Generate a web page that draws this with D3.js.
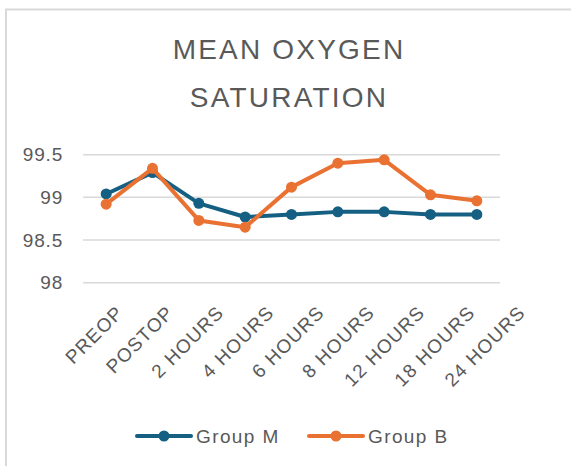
<!DOCTYPE html>
<html>
<head>
<meta charset="utf-8">
<script src="https://cdn.jsdelivr.net/npm/d3@7"></script>
<style>
  body { margin:0; background:#fff; }
  text { font-family: "Liberation Sans", Arial, sans-serif; fill:#595959; }
</style>
</head>
<body>
<div id="chart"></div>
<script>
// data
var categories = ['PREOP','POSTOP','2 HOURS','4 HOURS','6 HOURS','8 HOURS','12 HOURS','18 HOURS','24 HOURS'];
var groupM = [99.04, 99.29, 98.93, 98.77, 98.80, 98.83, 98.83, 98.80, 98.80];
var groupB = [98.92, 99.34, 98.73, 98.65, 99.12, 99.40, 99.44, 99.03, 98.96];
var yTicks = [98, 98.5, 99, 99.5];
var seriesNames = ['Group M','Group B'];
var colors = ['#156082','#E97132'];

var W = 571, H = 466;
var margin = {t:154.7, r:71, b:183.3, l:83};
var width = W - margin.l - margin.r,
    height = H - margin.t - margin.b;

var svg = d3.select('#chart').append('svg')
  .attr('width', W).attr('height', H);

// chart frame
svg.append('rect')
  .attr('x', 6).attr('y', 9.5)
  .attr('width', 600).attr('height', 500)
  .attr('fill', 'none').attr('stroke', '#d9d9d9').attr('stroke-width', 2);

// title
var titleLines = ['MEAN OXYGEN', 'SATURATION'];
titleLines.forEach(function(t, i) {
  svg.append('text').attr('x', 289).attr('y', 59 + i * 48)
    .attr('text-anchor', 'middle').style('font-size', '28px').style('letter-spacing', '2.2px')
    .text(t);
});

var plot = svg.append('g')
  .attr('transform', 'translate(' + margin.l + ',' + margin.t + ')');

var x = d3.scalePoint().domain(categories).range([0, width]).padding(0.5);
var y = d3.scaleLinear().domain([98, 99.5]).range([height, 0]);
// the category labels sit on a slightly wider step than the points
var xLabel = d3.scalePoint().domain(categories).range([41, 443]);

// gridlines
plot.append('g').selectAll('line').data(yTicks).enter().append('line')
  .attr('x1', 0).attr('x2', width)
  .attr('y1', function(d){ return y(d); }).attr('y2', function(d){ return y(d); })
  .attr('stroke', '#d9d9d9').attr('stroke-width', 1.5);

// y axis
var yAxis = plot.append('g')
  .call(d3.axisLeft(y).tickValues(yTicks).tickSize(0).tickPadding(20).tickFormat(d3.format('')));
yAxis.select('.domain').remove();
yAxis.selectAll('text').style('font-size', '19px').style('fill', '#595959')
  .style('letter-spacing', '0.8px').attr('font-family', null);

// x axis labels
var xAxis = plot.append('g')
  .attr('transform', 'translate(0,' + height + ')')
  .call(d3.axisBottom(xLabel).tickSize(0));
xAxis.select('.domain').remove();
xAxis.selectAll('text')
  .style('font-size', '19px').style('fill', '#595959').style('letter-spacing', '1.2px')
  .attr('text-anchor', 'end')
  .attr('dy', null).attr('y', 0)
  .attr('transform', 'translate(0,31) rotate(-45)');

// lines and markers
var line = d3.line()
  .x(function(d, i){ return x(categories[i]); })
  .y(function(d){ return y(d); });

[groupM, groupB].forEach(function(s, k) {
  plot.append('path').datum(s)
    .attr('d', line)
    .attr('fill', 'none').attr('stroke', colors[k]).attr('stroke-width', 4)
    .attr('stroke-linejoin', 'round');
  plot.append('g').selectAll('circle').data(s).enter().append('circle')
    .attr('cx', function(d, i){ return x(categories[i]); })
    .attr('cy', function(d){ return y(d); })
    .attr('r', 5.5)
    .attr('fill', colors[k]);
});

// legend
var legendX = [137, 309];
seriesNames.forEach(function(name, k) {
  var g = svg.append('g').attr('transform', 'translate(' + legendX[k] + ',436)');
  g.append('line').attr('x1', 0).attr('x2', 54).attr('y1', 0).attr('y2', 0)
    .attr('stroke', colors[k]).attr('stroke-width', 4).attr('stroke-linecap', 'round');
  g.append('circle').attr('cx', 27).attr('cy', 0).attr('r', 5.5).attr('fill', colors[k]);
  g.append('text').attr('x', 59).attr('y', 7)
    .style('font-size', '19px').style('letter-spacing', '1.4px').text(name);
});
</script>
</body>
</html>
